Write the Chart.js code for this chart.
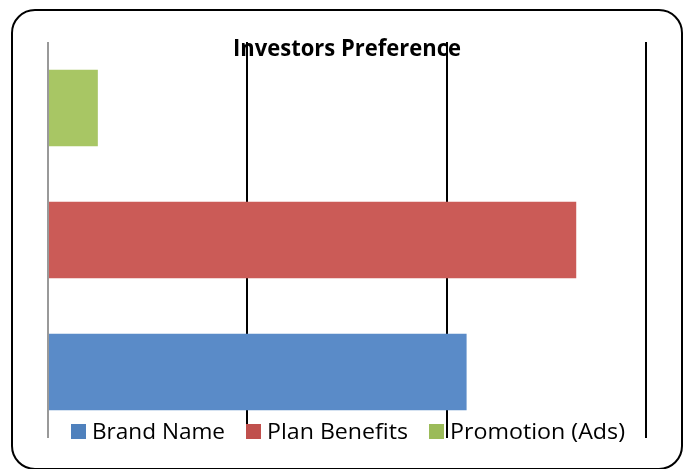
<!DOCTYPE html>
<html lang="en">
<head>
    <meta charset="UTF-8">
    <title>Investors Preference</title>
    <script src="https://cdn.jsdelivr.net/npm/chart.js"></script>
    <style>
        body {
            margin: 0;
            background-color: #ffffff;
            overflow: hidden;
        }
        .frame {
            position: absolute;
            left: 11px;
            top: 9px;
            width: 668px;
            height: 457px;
            border: 2px solid #000;
            border-radius: 24px;
        }
        canvas {
            position: absolute;
            left: 0;
            top: 0;
        }
    </style>
</head>
<body>
    <div class="frame"></div>
    <canvas id="myChart" width="690" height="469"></canvas>

    <script>
        // categories from top to bottom
        const categories = ['Promotion (Ads)', 'Plan Benefits', 'Brand Name'];
        const seriesNames = ['Brand Name', 'Plan Benefits', 'Promotion (Ads)'];
        const brandName = [null, null, 42];
        const planBenefits = [null, 53, null];
        const promotion = [5, null, null];
        const xTicks = [0, 20, 40, 60];

        const barColors = ['#5A8BC8', '#CB5B57', '#A8C664'];
        const keyColors = ['#4F81BD', '#C0504D', '#9BBB59'];

        // title and legend sit inside the plot area, over the gridlines
        const overlay = {
            id: 'overlay',
            afterDraw(chart) {
                const ctx = chart.ctx;
                const area = chart.chartArea;
                const mid = (area.left + area.right) / 2;
                ctx.save();
                ctx.fillStyle = '#000';
                ctx.textBaseline = 'alphabetic';

                // title
                ctx.font = 'bold 24px "Open Sans"';
                const title = 'Investors Preference';
                const tw = ctx.measureText(title).width;
                ctx.save();
                ctx.translate(233, 56);
                ctx.scale(228 / tw, 1);
                ctx.fillText(title, 0, 0);
                ctx.restore();

                // legend
                ctx.font = '22px "Open Sans"';
                const widths = [133, 141, 175];
                const box = 15, gap = 6, space = 21;
                let total = space * (seriesNames.length - 1);
                widths.forEach(w => { total += box + gap + w; });
                let x = mid - total / 2 + 1;
                const base = 439;
                seriesNames.forEach((n, i) => {
                    ctx.fillStyle = keyColors[i];
                    ctx.fillRect(x, base - 15, box, box);
                    x += box + gap;
                    const w = ctx.measureText(n).width;
                    ctx.save();
                    ctx.translate(x, base);
                    ctx.scale(widths[i] / w, 1);
                    ctx.fillStyle = '#000';
                    ctx.fillText(n, 0, 0);
                    ctx.restore();
                    x += widths[i] + space;
                });
                ctx.restore();
            }
        };

        const ctx = document.getElementById('myChart').getContext('2d');
        const chart = new Chart(ctx, {
            type: 'bar',
            data: {
                labels: categories,
                datasets: [{
                    label: seriesNames[0],
                    data: brandName,
                    backgroundColor: barColors[0]
                }, {
                    label: seriesNames[1],
                    data: planBenefits,
                    backgroundColor: barColors[1]
                }, {
                    label: seriesNames[2],
                    data: promotion,
                    backgroundColor: barColors[2]
                }]
            },
            options: {
                indexAxis: 'y',
                responsive: false,
                animation: false,
                layout: {
                    padding: { left: 48, right: 44, top: 42, bottom: 31 }
                },
                scales: {
                    x: {
                        min: xTicks[0],
                        max: xTicks[xTicks.length - 1],
                        afterBuildTicks: axis => {
                            axis.ticks = xTicks.map(v => ({ value: v }));
                        },
                        ticks: { display: false },
                        border: { display: false },
                        grid: {
                            drawTicks: false,
                            lineWidth: 2,
                            color: c => c.index === 0 ? '#999999' : '#000000'
                        }
                    },
                    y: {
                        stacked: true,
                        display: false
                    }
                },
                datasets: {
                    bar: {
                        barPercentage: 0.58,
                        categoryPercentage: 1
                    }
                },
                plugins: {
                    legend: { display: false },
                    title: { display: false },
                    tooltip: { enabled: false }
                }
            },
            plugins: [overlay]
        });
    </script>
</body>
</html>
